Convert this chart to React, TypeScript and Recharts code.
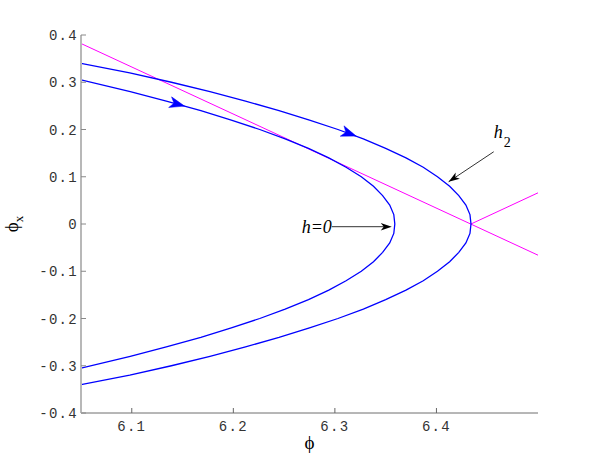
import { Line, LineChart, ReferenceLine, XAxis, YAxis } from "recharts"

// upper halves of the two level curves; lower halves are their mirror image
const h2Phi = [6.05, 6.098, 6.139, 6.177, 6.212, 6.245, 6.275, 6.303, 6.328, 6.35, 6.37, 6.387, 6.401, 6.413, 6.422, 6.429, 6.433, 6.434]
const h2PhiX = [0.34, 0.32, 0.3, 0.28, 0.26, 0.24, 0.22, 0.2, 0.18, 0.16, 0.14, 0.12, 0.1, 0.08, 0.06, 0.04, 0.02, 0]

const h0Phi = [6.05, 6.0985, 6.134, 6.168, 6.198, 6.226, 6.251, 6.274, 6.294, 6.311, 6.326, 6.338, 6.347, 6.354, 6.358, 6.359]
const h0PhiX = [0.305, 0.28, 0.26, 0.24, 0.22, 0.2, 0.18, 0.16, 0.14, 0.12, 0.1, 0.08, 0.06, 0.04, 0.02, 0]

// the two straight magenta lines
const sep1Phi = [6.05, 6.5]
const sep1PhiX = [0.382, -0.066]
const sep2Phi = [6.434, 6.5]
const sep2PhiX = [0, 0.066]

// flow direction arrows on the curves: [from, tip]
const flowArrows = [
  { from: { x: 6.134, y: 0.26 }, to: { x: 6.152, y: 0.2495 } },
  { from: { x: 6.303, y: 0.2 }, to: { x: 6.321, y: 0.186 } },
]

// annotation arrows: [start, tip]
const h0Arrow = [{ x: 6.297, y: -0.0057 }, { x: 6.356, y: -0.0057 }]
const h2Arrow = [{ x: 6.4564, y: 0.1529 }, { x: 6.412, y: 0.0894 }]

const xTicks = [6.1, 6.2, 6.3, 6.4]
const yTicks = [-0.4, -0.3, -0.2, -0.1, 0, 0.1, 0.2, 0.3, 0.4]

const closed = (phi: number[], phiX: number[]) => {
  const upper = phi.map((p, i) => ({ phi: p, phiX: phiX[i] }))
  const lower = upper.slice(0, -1).reverse().map((d) => ({ phi: d.phi, phiX: -d.phiX }))
  return [...upper, ...lower]
}
const pairs = (phi: number[], phiX: number[]) => phi.map((p, i) => ({ phi: p, phiX: phiX[i] }))

const h2Data = closed(h2Phi, h2PhiX)
const h0Data = closed(h0Phi, h0PhiX)
const sep1Data = pairs(sep1Phi, sep1PhiX)
const sep2Data = pairs(sep2Phi, sep2PhiX)

const tickFont = { fontFamily: "Liberation Mono, monospace", fontSize: 14, letterSpacing: 1.3, fill: "#333" }
const fmt = (v: number) => (v === 0 ? "0" : v.toFixed(1))
const PHI = "\u03D5"

function head(x1: number, y1: number, x2: number, y2: number, len: number, half: number, notch: number) {
  const d = Math.hypot(x2 - x1, y2 - y1) || 1
  const ux = (x2 - x1) / d
  const uy = (y2 - y1) / d
  const nx = -uy
  const ny = ux
  const bx = x2 - ux * len
  const by = y2 - uy * len
  const cx = x2 - ux * (len - notch)
  const cy = y2 - uy * (len - notch)
  return `${x2},${y2} ${bx + nx * half},${by + ny * half} ${cx},${cy} ${bx - nx * half},${by - ny * half}`
}

const FlowHead = (p: any) => (
  <polygon points={head(p.x1, p.y1, p.x2, p.y2, 15, 5.5, 4)} fill="#0000ff" stroke="#0000ff" strokeWidth={0.5} />
)

const H0Shape = (p: any) => (
  <g>
    <line x1={p.x1} y1={p.y1} x2={p.x2 - 6} y2={p.y2} stroke="#333" strokeWidth={1} />
    <polygon points={head(p.x1, p.y1, p.x2, p.y2, 11, 3.8, 3)} fill="#000" />
    <text x={p.x1} y={p.y1 + 6} textAnchor="end" fontFamily="Liberation Serif, serif" fontStyle="italic" fontSize={18} fill="#000">
      h=0
    </text>
  </g>
)

const H2Shape = (p: any) => (
  <g>
    <line x1={p.x1} y1={p.y1} x2={p.x2} y2={p.y2} stroke="#333" strokeWidth={1} />
    <polygon points={head(p.x1, p.y1, p.x2, p.y2, 11, 3.8, 3)} fill="#000" />
    <text x={p.x1} y={p.y1 - 14} fontFamily="Liberation Serif, serif" fontSize={18} fill="#000">
      <tspan fontStyle="italic">h</tspan>
      <tspan dx={1} dy={9} fontSize={14}>2</tspan>
    </text>
  </g>
)

const XTick = ({ x, y, payload }: any) => (
  <g>
    <line x1={x} x2={x} y1={y - 4} y2={y - 9} stroke="#666" />
    <text x={x} y={y + 14} textAnchor="middle" {...tickFont}>
      {fmt(payload.value)}
    </text>
  </g>
)

const YTick = ({ x, y, payload }: any) => (
  <g>
    <line x1={x + 4} x2={x + 9} y1={y} y2={y} stroke="#888" />
    <text x={x + 1} y={y + 5} textAnchor="end" {...tickFont}>
      {fmt(payload.value)}
    </text>
  </g>
)

export default function App() {
  return (
    <div style={{ position: "absolute", left: 0, top: 0, width: 594, height: 465, background: "#fff" }}>
      <LineChart width={594} height={465} margin={{ top: 35, right: 56, bottom: 0, left: 0 }}>
        <XAxis
          dataKey="phi"
          type="number"
          domain={[6.05, 6.5]}
          ticks={xTicks}
          allowDataOverflow
          height={52}
          tickSize={0}
          tickMargin={4}
          tick={<XTick />}
          axisLine={{ stroke: "#6e6e6e" }}
          label={{
            content: ({ viewBox }: any) => (
              <text x={viewBox.x + viewBox.width / 2} y={viewBox.y + 36} textAnchor="middle" fontFamily="Liberation Serif, serif" fontSize={19} fill="#000">
                {PHI}
              </text>
            ),
          }}
        />
        <YAxis
          dataKey="phiX"
          type="number"
          domain={[-0.4, 0.4]}
          ticks={yTicks}
          allowDataOverflow
          width={81}
          tickSize={0}
          tickMargin={4}
          tick={<YTick />}
          axisLine={{ stroke: "#b8b8b8", strokeWidth: 2 }}
          label={{
            content: ({ viewBox }: any) => {
              const cy = viewBox.y + viewBox.height / 2
              return (
                <text transform={`rotate(-90, 18, ${cy})`} x={18} y={cy} textAnchor="middle" fontFamily="Liberation Serif, serif" fontSize={19} fill="#000">
                  {PHI}
                  <tspan dy={5} fontSize={13}>x</tspan>
                </text>
              )
            },
          }}
        />
        <Line data={sep1Data} dataKey="phiX" type="linear" stroke="#ff00ff" strokeWidth={1} dot={false} isAnimationActive={false} />
        <Line data={sep2Data} dataKey="phiX" type="linear" stroke="#ff00ff" strokeWidth={1} dot={false} isAnimationActive={false} />
        <Line data={h2Data} dataKey="phiX" type="linear" stroke="#0000ff" strokeWidth={1.3} dot={false} isAnimationActive={false} />
        <Line data={h0Data} dataKey="phiX" type="linear" stroke="#0000ff" strokeWidth={1.3} dot={false} isAnimationActive={false} />
        {flowArrows.map((a, i) => (
          <ReferenceLine key={i} segment={[a.from, a.to]} shape={FlowHead} />
        ))}
        <ReferenceLine segment={h0Arrow} shape={H0Shape} />
        <ReferenceLine segment={h2Arrow} shape={H2Shape} />
      </LineChart>
    </div>
  )
}
